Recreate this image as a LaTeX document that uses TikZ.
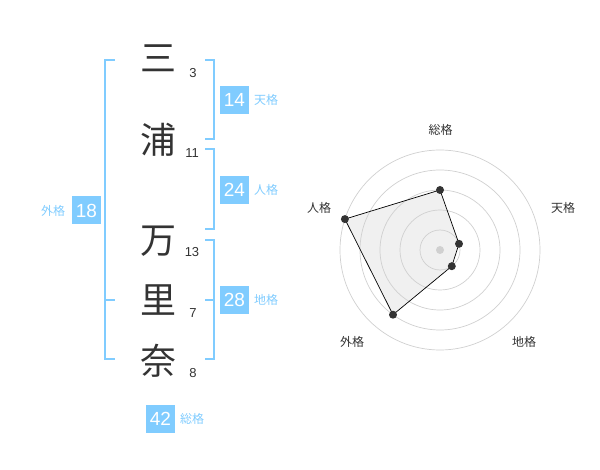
\documentclass[tikz,border=0pt]{standalone}
\usepackage{fontspec}
\setmainfont{Liberation Sans}
\newfontfamily\jpfont{Noto Sans CJK JP}
\usepackage{xcolor}
\usepackage{tikz}
\usetikzlibrary{calc}
\definecolor{kakublue}{RGB}{128,204,255}
\definecolor{chargray}{RGB}{51,51,51}
\definecolor{ringgray}{RGB}{208,208,208}
\definecolor{areagray}{RGB}{240,240,240}

\begin{document}
\begin{tikzpicture}[x=1pt,y=-1pt,
	kanji/.style={font=\jpfont\fontsize{36}{36}\selectfont, text=chargray, inner sep=0pt},
	strokes/.style={font=\fontsize{13}{13}\selectfont, text=chargray, inner sep=0pt},
	kakubox/.style={fill=kakublue, text=white, font=\fontsize{19}{19}\selectfont, minimum width=29pt, minimum height=28pt, inner sep=0pt},
	kakulabel/.style={text=kakublue, font=\jpfont\fontsize{12}{12}\selectfont, inner sep=0pt},
	bracket/.style={kakublue, line width=2pt},
	ring/.style={ringgray, line width=0.7pt},
	axislabel/.style={text=chargray, font=\jpfont\fontsize{12}{12}\selectfont, inner sep=0pt}]
							\useasboundingbox (0,0) rectangle (600,470);
							
							% name characters
							\node[kanji] (c1) at (158,58) {三};
							\node[kanji] (c2) at (158,140) {浦};
							\node[kanji] (c3) at (158,241) {万};
							\node[kanji] (c4) at (158,300) {里};
							\node[kanji] (c5) at (158,361) {奈};
							
							\node[strokes] (s1) at (193,73) {3};
							\node[strokes] (s2) at (192,153) {11};
							\node[strokes] (s3) at (192,252) {13};
							\node[strokes] (s4) at (193,313) {7};
							\node[strokes] (s5) at (193,373) {8};
							
							% brackets
							\draw[bracket] (115,60) - - (105,60) - - (105,359) - - (115,359);
							\draw[bracket] (105,300) - - (115,300);
							\draw[bracket] (205,60) - - (214,60) - - (214,139) - - (205,139);
							\draw[bracket] (205,149) - - (214,149) - - (214,229) - - (205,229);
							\draw[bracket] (205,240) - - (214,240) - - (214,359) - - (205,359);
							\draw[bracket] (205,300) - - (214,300);
							
							% kaku boxes
							\node[kakubox] (ten) at (234.5,100) {14};
							\node[kakubox] (jin) at (234.5,190) {24};
							\node[kakubox] (chi) at (234.5,300) {28};
							\node[kakubox] (gai) at (86.5,210.5) {18};
							\node[kakubox] (sou) at (160.5,419) {42};
							
							\node[kakulabel] at (266,100) {天格};
							\node[kakulabel] at (266,190) {人格};
							\node[kakulabel] at (266,300) {地格};
							\node[kakulabel] at (53,211) {外格};
							\node[kakulabel] at (192,419) {総格};
							
							% radar chart
							\coordinate (O) at (440,250);
							\coordinate (P1) at (440,190);
							\coordinate (P2) at (459,243.8);
							\coordinate (P3) at (451.8,266.2);
							\coordinate (P4) at (393,314.7);
							\coordinate (P5) at (344.9,219.1);
							
							\fill[areagray] (P1) - - (P2) - - (P3) - - (P4) - - (P5) - - cycle;
							\foreach \r in {20,40,60,80,100}
								\draw[ring] (O) circle (\r);
							\draw[black, line width=0.7pt] (P1) - - (P2) - - (P3) - - (P4) - - (P5) - - cycle;
							\foreach \p in {P1,P2,P3,P4,P5}
								\fill[chargray] (\p) circle (4);
							\fill[ringgray] (O) circle (4);
							
							\node[axislabel] at (440.5,130) {総格};
							\node[axislabel] at (563,208) {天格};
							\node[axislabel] at (524,342) {地格};
							\node[axislabel] at (352,342) {外格};
							\node[axislabel] at (319,208) {人格};
						\end{tikzpicture}
\end{document}
